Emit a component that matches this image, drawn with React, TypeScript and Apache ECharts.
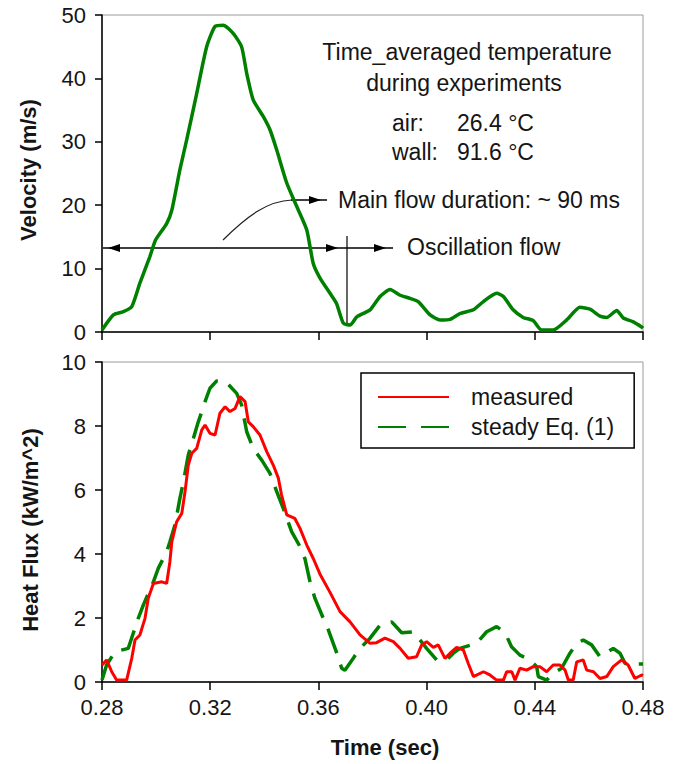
import React, { useEffect, useRef } from "react";
import * as echarts from "echarts";

// ---- Data ----
const timeVelocity = [
  0.28, 0.2842, 0.2879, 0.291, 0.294, 0.2977, 0.2998, 0.3039, 0.3058, 0.3088,
  0.3113, 0.315, 0.3187, 0.3218, 0.3248, 0.3285, 0.3316, 0.3335, 0.3359, 0.3396,
  0.3421, 0.3446, 0.3483, 0.352, 0.3557, 0.3581, 0.3606, 0.3643, 0.3667, 0.3692,
  0.3717, 0.3742, 0.3791, 0.3828, 0.3865, 0.3902, 0.3939, 0.3969, 0.4013, 0.405,
  0.4087, 0.4123, 0.4173, 0.421, 0.4259, 0.4284, 0.432, 0.4357, 0.4394, 0.4425,
  0.4468, 0.4518, 0.4567, 0.4604, 0.4641, 0.4666, 0.4703, 0.4727, 0.4764, 0.4795,
  0.48,
];
const velocity = [
  0.3, 2.7, 3.2, 4.0, 7.7, 11.9, 14.5, 17.1, 19.2, 25.6,
  30.3, 37.6, 45.0, 48.2, 48.4, 47.1, 45.0, 40.8, 36.6, 34.0,
  31.9, 28.7, 23.5, 19.8, 16.1, 10.8, 8.5, 6.1, 4.5, 1.4,
  1.1, 2.4, 3.5, 5.6, 6.7, 5.8, 5.3, 4.8, 2.7, 1.9,
  2.0, 2.9, 3.5, 4.8, 6.1, 5.6, 3.5, 2.3, 1.8, 0.3,
  0.3, 1.9, 3.9, 3.6, 2.5, 2.3, 3.4, 2.2, 1.6, 0.8,
  0.6,
];

const timeMeasured = [
  0.28, 0.2817, 0.2836, 0.2854, 0.2891, 0.291, 0.2922, 0.294, 0.2959, 0.2971,
  0.299, 0.3021, 0.3039, 0.3051, 0.3058, 0.3076, 0.3095, 0.3107, 0.3119, 0.3132,
  0.315, 0.3169, 0.3181, 0.3199, 0.3218, 0.3236, 0.3255, 0.3273, 0.3292, 0.331,
  0.3329, 0.3341, 0.3359, 0.3384, 0.3409, 0.3433, 0.3452, 0.3464, 0.3483, 0.3513,
  0.3532, 0.3557, 0.3581, 0.3606, 0.3643, 0.368, 0.3717, 0.3754, 0.3791, 0.3815,
  0.3846, 0.3877, 0.3902, 0.3932, 0.3963, 0.3982, 0.4, 0.4025, 0.4043, 0.4068,
  0.4093, 0.4111, 0.4136, 0.4154, 0.4173, 0.421, 0.4234, 0.4259, 0.4284, 0.4296,
  0.4315, 0.4327, 0.4345, 0.437, 0.4394, 0.4419, 0.4444, 0.4468, 0.4493, 0.4512,
  0.4524, 0.4542, 0.4555, 0.4579, 0.4592, 0.4617, 0.4641, 0.4666, 0.469, 0.4721,
  0.4745, 0.477, 0.4795, 0.48,
];
const measured = [
  0.53, 0.69, 0.32, 0.06, 0.06, 0.74, 1.31, 1.47, 1.99, 2.62,
  3.08, 3.13, 3.08, 3.76, 4.38, 5.01, 5.27, 5.95, 6.78, 7.15,
  7.3, 7.88, 8.03, 7.77, 7.72, 8.4, 8.6, 8.45, 8.55, 8.92,
  8.76, 8.13, 7.98, 7.72, 7.2, 6.78, 6.37, 5.84, 5.22, 5.11,
  4.8, 4.28, 3.86, 3.37, 2.8, 2.2, 1.88, 1.47, 1.21, 1.23,
  1.37, 1.26, 1.05, 0.74, 0.79, 1.16, 1.26, 1.08, 1.16, 0.74,
  0.95, 1.08, 1.0, 0.58, 0.17, 0.32, 0.22, 0.06, 0.06, 0.32,
  0.32, 0.06, 0.43, 0.37, 0.48, 0.48, 0.32, 0.53, 0.53, 0.37,
  0.06, 0.06, 0.63, 0.69, 0.37, 0.32, 0.11, 0.17, 0.48, 0.69,
  0.53, 0.11, 0.22, 0.2,
];

const timeSteady = [
  0.28, 0.2817, 0.2848, 0.2897, 0.2934, 0.2953, 0.299, 0.3008, 0.3039, 0.3051,
  0.307, 0.3088, 0.3101, 0.3119, 0.3138, 0.3156, 0.3169, 0.3181, 0.3199, 0.3224,
  0.3248, 0.3267, 0.3298, 0.3316, 0.3335, 0.3359, 0.339, 0.3421, 0.3446, 0.347,
  0.3501, 0.3532, 0.355, 0.3569, 0.3587, 0.3618, 0.3637, 0.3668, 0.3686, 0.3698,
  0.3729, 0.3748, 0.3791, 0.3828, 0.3871, 0.3908, 0.3951, 0.3976, 0.4, 0.4037,
  0.4074, 0.4099, 0.4123, 0.4185, 0.4222, 0.4259, 0.429, 0.4314, 0.4345, 0.4382,
  0.4407, 0.4413, 0.4444, 0.4468, 0.4499, 0.453, 0.4555, 0.4579, 0.461, 0.4641,
  0.469, 0.4715, 0.4734, 0.4764, 0.4795, 0.48,
];
const steady = [
  0.06, 0.53, 0.95, 1.05, 1.99, 2.41, 3.13, 3.55, 4.07, 4.38,
  4.91, 5.74, 6.26, 7.09, 7.62, 8.13, 8.45, 8.76, 9.18, 9.41,
  9.41, 9.3, 9.02, 8.66, 7.82, 7.3, 6.94, 6.52, 5.95, 5.43,
  4.7, 4.23, 3.86, 3.13, 2.62, 1.99, 1.62, 0.9, 0.43, 0.37,
  0.74, 1.0, 1.37, 1.78, 1.88, 1.54, 1.57, 1.31, 1.05, 0.69,
  0.69, 0.9, 1.05, 1.21, 1.57, 1.73, 1.54, 1.1, 0.84, 0.69,
  0.48, 0.17, 0.06, 0.27, 0.43, 0.9, 1.21, 1.31, 1.16, 0.79,
  1.05, 0.9, 0.58, 0.56, 0.56, 0.56,
];

const seriesNames = ["measured", "steady Eq. (1)"];
const annotationLines = [
  "Time_averaged temperature",
  "during experiments",
];
const airLabel = ["air:", "26.4 \u00B0C"];
const wallLabel = ["wall:", "91.6 \u00B0C"];
const mainFlowLabel = "Main flow duration: ~ 90 ms";
const oscillationLabel = "Oscillation flow";

const zip = (xs: number[], ys: number[]) => xs.map((x, i) => [x, ys[i]]);

const FONT = "Liberation Sans, Arial, sans-serif";
const TEXT = "#151515";

export default function App() {
  const ref = useRef<HTMLDivElement>(null);

  useEffect(() => {
    if (!ref.current) return;
    const chart = echarts.init(ref.current, null, { renderer: "svg" });

    const axisCommon = {
      type: "value" as const,
      axisLine: { show: true, lineStyle: { color: "#000", width: 1.5 } },
      axisTick: { show: true, length: 8, lineStyle: { color: "#000", width: 1.5 } },
      splitLine: { show: false },
    };
    const labelStyle = { fontFamily: FONT, fontSize: 22, color: TEXT };

    const arrowHead = (tipX: number, tipY: number, dir: number) => ({
      type: "polygon",
      shape: {
        points: [
          [tipX, tipY],
          [tipX - dir * 12, tipY - 4],
          [tipX - dir * 12, tipY + 4],
        ],
      },
      style: { fill: "#000" },
    });

    const txt = (text: string, x: number, y: number, align = "center", bold = false, size = 23) => ({
      type: "text",
      x,
      y,
      style: {
        text,
        font: `${bold ? "bold " : ""}${size}px ${FONT}`,
        fill: TEXT,
        textAlign: align,
        textVerticalAlign: "middle",
      },
    });

    chart.setOption({
      animation: false,
      backgroundColor: "#fff",
      grid: [
        { left: 102, top: 15, right: 30, height: 317, show: true, borderColor: "#9a9a9a", borderWidth: 1, containLabel: false },
        { left: 102, top: 362, right: 30, height: 320, show: true, borderColor: "#9a9a9a", borderWidth: 1, containLabel: false },
      ],
      xAxis: [
        { ...axisCommon, gridIndex: 0, min: 0.28, max: 0.48, interval: 0.04, axisLabel: { show: false } },
        {
          ...axisCommon,
          gridIndex: 1,
          min: 0.28,
          max: 0.48,
          interval: 0.04,
          axisLabel: { ...labelStyle, margin: 14, formatter: (v: number) => v.toFixed(2) },
        },
      ],
      yAxis: [
        {
          ...axisCommon,
          gridIndex: 0,
          min: 0,
          max: 50,
          interval: 10,
          axisTick: { show: true, length: 7, lineStyle: { color: "#000", width: 1.5 } },
          axisLabel: { ...labelStyle, margin: 16 },
        },
        {
          ...axisCommon,
          gridIndex: 1,
          min: 0,
          max: 10,
          interval: 2,
          axisTick: { show: true, length: 7, lineStyle: { color: "#000", width: 1.5 } },
          axisLabel: { ...labelStyle, margin: 16 },
        },
      ],
      legend: {
        data: [
          { name: seriesNames[0] },
          { name: seriesNames[1], lineStyle: { type: [28, 15] } },
        ],
        orient: "vertical",
        left: 361,
        top: 373,
        itemWidth: 71,
        itemHeight: 14,
        itemGap: 6,
        padding: [12, 20, 9, 16],
        borderColor: "#000",
        borderWidth: 1.5,
        itemStyle: { color: "transparent", borderColor: "transparent", borderWidth: 0, opacity: 0 },
        textStyle: { fontFamily: FONT, fontSize: 23, color: TEXT, lineHeight: 24, padding: [0, 0, 0, 17] },
      },
      series: [
        {
          name: "velocity",
          type: "line",
          xAxisIndex: 0,
          yAxisIndex: 0,
          data: zip(timeVelocity, velocity),
          symbol: "none",
          smooth: 0.2,
          lineStyle: { color: "#008000", width: 3.5 },
          itemStyle: { color: "#008000" },
        },
        {
          name: seriesNames[1],
          type: "line",
          xAxisIndex: 1,
          yAxisIndex: 1,
          data: zip(timeSteady, steady),
          symbol: "none",
          lineStyle: { color: "#008000", width: 3.5, type: [26, 12] },
          itemStyle: { color: "#008000" },
        },
        {
          name: seriesNames[0],
          type: "line",
          xAxisIndex: 1,
          yAxisIndex: 1,
          data: zip(timeMeasured, measured),
          symbol: "none",
          lineStyle: { color: "#ff0000", width: 3 },
          itemStyle: { color: "#ff0000" },
        },
      ],
      graphic: [
        // axis titles
        { ...txt("Velocity (m/s)", 28, 170, "center", true, 22), rotation: Math.PI / 2 },
        { ...txt("Heat Flux (kW/m^2)", 30, 530, "center", true, 22), rotation: Math.PI / 2 },
        txt("Time (sec)", 385, 747, "center", true, 22),
        // annotation block
        txt(annotationLines[0], 467, 52),
        txt(annotationLines[1], 464, 83),
        txt(airLabel[0], 392, 123, "left"),
        txt(airLabel[1], 457, 123, "left"),
        txt(wallLabel[0], 392, 152, "left"),
        txt(wallLabel[1], 457, 152, "left"),
        txt(mainFlowLabel, 338, 200, "left"),
        txt(oscillationLabel, 407, 247, "left"),
        // horizontal double arrow
        { type: "line", shape: { x1: 103, y1: 248, x2: 393, y2: 248 }, style: { stroke: "#000", lineWidth: 1.5 } },
        arrowHead(108, 248, -1),
        arrowHead(338, 248, 1),
        arrowHead(386, 248, 1),
        // vertical line at end of main flow
        { type: "line", shape: { x1: 347, y1: 236, x2: 347, y2: 326 }, style: { stroke: "#000", lineWidth: 1.2 } },
        // curved arrow
        {
          type: "bezierCurve",
          shape: { x1: 223, y1: 240, cpx1: 248, cpy1: 215, cpx2: 268, cpy2: 201, x2: 292, y2: 200 },
          style: { stroke: "#222", lineWidth: 1.2, fill: "none" },
        },
        { type: "line", shape: { x1: 291, y1: 200, x2: 327, y2: 200 }, style: { stroke: "#000", lineWidth: 1.5 } },
        arrowHead(321, 200, 1),
      ],
    });

    return () => chart.dispose();
  }, []);

  return (
    <div
      ref={ref}
      style={{ position: "absolute", left: 0, top: 0, width: 673, height: 764, background: "#fff" }}
    />
  );
}
